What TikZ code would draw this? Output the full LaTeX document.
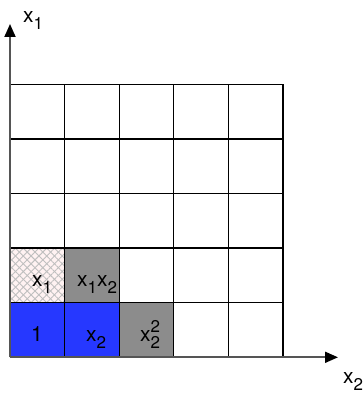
\documentclass[tikz,border=0pt]{standalone}
\usepackage{fontspec}
\setmainfont{TeX Gyre Heros}
\usetikzlibrary{arrows.meta,patterns.meta}
\definecolor{cellblue}{RGB}{38,56,255}
\definecolor{cellgray}{RGB}{140,140,140}
\definecolor{hatchbg}{RGB}{255,242,242}
\definecolor{axisgray}{RGB}{85,85,85}
\newcommand{\lo}[1]{\raisebox{-7pt}{\fontsize{17}{17}\selectfont #1}}
\newcommand{\hi}[1]{\raisebox{8.5pt}{\fontsize{17}{17}\selectfont #1}}
\begin{document}
\begin{tikzpicture}[x=1pt,y=-1pt,
  cellline/.style={draw=black,line width=1.3pt},
  axis/.style={draw=axisgray,line width=1.8pt,-{Triangle[width=11pt,length=13pt,fill=black,color=black]}},
  lab/.style={inner sep=0pt,anchor=base west,font=\fontsize{21}{21}\selectfont}]
\useasboundingbox (0,0) rectangle (362,396);
% fills
\fill[hatchbg] (10,249) rectangle (64.6,303.3);
\fill[pattern={Lines[angle=45,distance=5.5pt,line width=0.9pt]},pattern color=black!25] (10,249) rectangle (64.6,303.3);
\fill[pattern={Lines[angle=-45,distance=5.5pt,line width=0.9pt]},pattern color=black!25] (10,249) rectangle (64.6,303.3);
\fill[cellgray] (64.6,249) rectangle (119.2,303.3);
\fill[cellblue] (10,303.3) rectangle (119.2,357.3);
\fill[cellgray] (119.2,303.3) rectangle (173.8,357.3);
% grid
\foreach \i in {0,...,5}{
  \draw[cellline] ({10+54.6*\i},84.3) -- ({10+54.6*\i},357.3);
  \draw[cellline] (10,{84.3+54.6*\i}) -- (283,{84.3+54.6*\i});
}
% axes
\coordinate (o) at (10,357.3);
\coordinate (ytip) at (10,24);
\coordinate (xtip) at (338,357.3);
\draw[axis] (o) -- (ytip);
\draw[axis] (o) -- (xtip);
\node[lab] (lx1) at (23,23) {x\lo{1}};
\node[lab] (lx2) at (343,383) {x\lo{2}};
% labels
\node[lab] (c01) at (32,286) {x\lo{1}};
\node[lab] (c11) at (77,286) {x\lo{1}x\lo{2}};
\node[lab] (c00) at (31,341) {1};
\node[lab] (c10) at (86,341) {x\lo{2}};
\node[lab] (c20) at (140,341) {x\rlap{\hi{2}}\lo{2}};
\end{tikzpicture}
\end{document}
